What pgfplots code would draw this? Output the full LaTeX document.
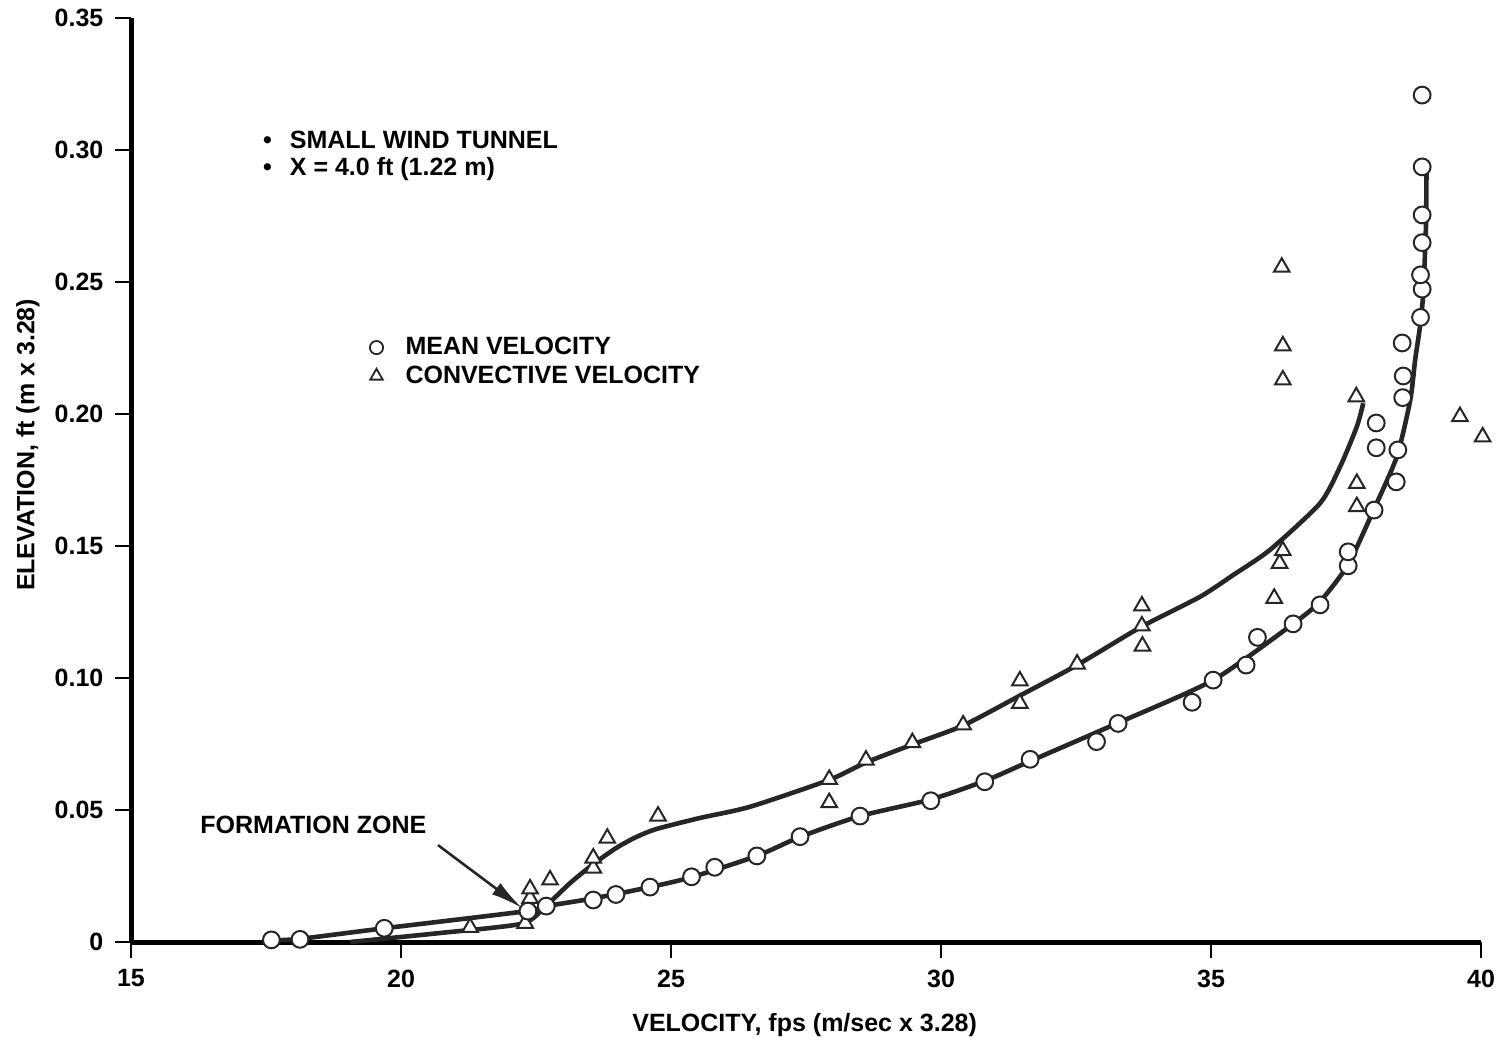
\documentclass[border=0pt]{standalone}
\usepackage{pgfplots}
\pgfplotsset{compat=1.18}
\usepackage{fontspec}
\setmainfont{Liberation Sans}
\usetikzlibrary{arrows.meta}
\newcommand\f{\bfseries\fontsize{12.5}{15}\selectfont}
\begin{document}
\begin{tikzpicture}
\path[use as bounding box] (-65.5pt,-50.5pt) rectangle (685.5pt,471pt);
\begin{axis}[
  scale only axis, width=675pt, height=462pt,
  xmin=15, xmax=40, ymin=0, ymax=0.35,
  axis lines=left, axis line style={-, line width=2.5pt},
  xtick={15,20,25,30,35,40},
  ytick={0,0.05,0.1,0.15,0.2,0.25,0.3,0.35},
  yticklabels={0,0.05,0.10,0.15,0.20,0.25,0.30,0.35},
  tick align=outside, major tick length=8pt,
  tick style={line width=1pt, black},
  /pgf/number format/assume math mode=true,
  ticklabel style={font=\f},
  xticklabel style={yshift=-2.3pt},
  yticklabel style={xshift=-2.3pt},
  xlabel={VELOCITY, fps (m/sec x 3.28)},
  ylabel={ELEVATION, ft (m x 3.28)},
  label style={font=\f},
  xlabel style={at={(axis description cs:0.499,-0.0898)}, anchor=center},
  ylabel style={at={(axis description cs:-0.0763,0.538)}, anchor=center},
  clip=false,
  legend cell align=left,
  legend style={draw=none, fill=none, at={(axis cs:19.15,0.2307)}, anchor=north west, inner sep=0pt, font=\f, row sep=0pt},
  legend image code/.code={\path[draw=none] (0pt,0pt) -- (23pt,0pt); \draw[#1] plot coordinates {(10.5pt,0pt)};},
]
% fitted curves
\addplot[forget plot, black!85, line width=2.3pt, smooth, tension=0.4] coordinates {
(17.50,0.0005) (18.13,0.0012) (19.69,0.0052) (22.33,0.0117) (22.69,0.0136)
(23.56,0.0165) (24.61,0.0208) (25.39,0.0246) (26.59,0.0326) (27.39,0.0398)
(28.50,0.0477) (29.81,0.0540) (30.81,0.0610) (31.65,0.0685) (33.28,0.0830)
(35.04,0.0992) (36.52,0.1205) (37.02,0.1290) (37.54,0.1430) (38.01,0.1636)
(38.44,0.1838) (38.69,0.2053) (38.78,0.2205) (38.87,0.2331) (38.93,0.2457)
(38.98,0.2709) (38.99,0.2911)};
\addplot[forget plot, black!85, line width=2.3pt, smooth, tension=0.4] coordinates {
(19.06,0.0000) (20.72,0.0034) (22.25,0.0070) (22.70,0.0140) (23.13,0.0223)
(23.56,0.0295) (24.00,0.0358) (24.36,0.0398) (24.73,0.0428) (25.54,0.0470)
(26.46,0.0512) (27.93,0.0614) (28.61,0.0680) (29.47,0.0748) (30.41,0.0820)
(31.45,0.0932) (32.52,0.1049) (33.71,0.1194) (34.80,0.1308) (35.41,0.1390)
(36.09,0.1485) (37.02,0.1662) (37.39,0.1800) (37.70,0.1952) (37.82,0.2041)};
% convective velocity data
\addplot[forget plot, only marks, mark=triangle*, mark size=4.5pt,
  mark options={draw=black!85, fill=white, line width=1pt}] coordinates {
(21.28,0.0055) (22.30,0.0071) (22.39,0.0165) (22.39,0.0201) (22.76,0.0235)
(23.56,0.0280) (23.56,0.0318) (23.82,0.0393) (24.76,0.0477) (27.93,0.0528)
(27.93,0.0616) (28.61,0.0689) (29.47,0.0755) (30.41,0.0822) (31.46,0.0904)
(31.46,0.0989) (32.52,0.1053) (33.73,0.1121) (33.72,0.1197) (33.72,0.1273)
(36.17,0.1302) (36.27,0.1434) (36.33,0.1482) (37.70,0.1649) (37.70,0.1737)
(37.69,0.2065) (39.61,0.1990) (40.03,0.1913) (36.33,0.2129) (36.33,0.2258)
(36.31,0.2556)};
% mean velocity data
\addplot[forget plot, only marks, mark=*, mark size=4.2pt,
  mark options={draw=black!85, fill=white, line width=1pt}] coordinates {
(17.60,0.0008) (18.13,0.0010) (19.69,0.0052) (22.35,0.0117) (22.69,0.0136)
(23.56,0.0159) (23.98,0.0180) (24.61,0.0208) (25.38,0.0247) (25.81,0.0283)
(26.59,0.0326) (27.39,0.0399) (28.50,0.0477) (29.81,0.0535) (30.81,0.0607)
(31.65,0.0692) (32.88,0.0759) (33.28,0.0828) (34.65,0.0908) (35.04,0.0992)
(35.65,0.1049) (35.86,0.1154) (36.52,0.1205) (37.02,0.1277) (37.54,0.1425)
(37.54,0.1478) (38.02,0.1636) (38.43,0.1743) (38.06,0.1872) (38.46,0.1864)
(38.06,0.1966) (38.55,0.2062) (38.56,0.2144) (38.54,0.2269) (38.88,0.2366)
(38.91,0.2473) (38.88,0.2527) (38.91,0.2649) (38.91,0.2754) (38.91,0.2936)
(38.91,0.3208)};
\addlegendimage{only marks, mark=*, mark size=3.3pt, mark options={draw=black!85, fill=white, line width=0.9pt}}
\addlegendentry{MEAN VELOCITY}
\addlegendimage{only marks, mark=triangle*, mark size=3.6pt, mark options={draw=black!85, fill=white, line width=0.9pt}}
\addlegendentry{CONVECTIVE VELOCITY}
\node[anchor=north west, inner sep=0pt, align=left, font=\bfseries\fontsize{12.5}{13.5}\selectfont]
  at (axis cs:17.44,0.3072) {\textbullet\hspace{9pt}SMALL WIND TUNNEL\\ \textbullet\hspace{9pt}X = 4.0 ft (1.22 m)};
\node[anchor=west, inner sep=0pt, font=\f] at (axis cs:16.278,0.0443) {FORMATION ZONE};
\draw[black!85, line width=1.3pt, -{Latex[length=16pt, width=7pt]}] (axis cs:20.685,0.0367) -- (axis cs:22.24,0.0129);
\end{axis}
\end{tikzpicture}
\end{document}
